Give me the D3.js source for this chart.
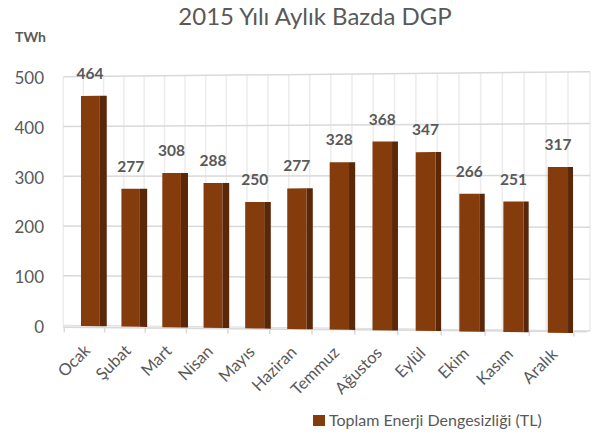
<!DOCTYPE html>
<html>
<head>
<meta charset="utf-8">
<script src="https://cdn.jsdelivr.net/npm/d3@7"></script>
<style>
  html, body { margin: 0; padding: 0; background: #fff; }
  svg { display: block; font-family: Lato, "Open Sans", sans-serif; }
</style>
</head>
<body>
<svg id="chart" width="596" height="438"></svg>
<script>
// ---- data ----
const months = ["Ocak","Şubat","Mart","Nisan","Mayıs","Haziran","Temmuz","Ağustos","Eylül","Ekim","Kasım","Aralık"];
const values = [464,277,308,288,250,277,328,368,347,266,251,317];
const yTicks = [0,100,200,300,400,500];
const titleText = "2015 Yılı Aylık Bazda DGP";
const unitText = "TWh";
const legendText = "Toplam Enerji Dengesizliği (TL)";

// ---- styles ----
const textColor = "#595959";
const barFront = "#843C0C";
const barSide = "#5A2808";
const gridColor = "#d9d9d9";
const vGridColor = "#ececec";

const svg = d3.select("#chart");

// ---- scales ----
const xBand = d3.scaleBand().domain(months).range([0, 12]);
const yFrac = d3.scaleLinear().domain([0, 500]).range([0, 1]);

// perspective warp of the category axis (front plane)
const warpX = s => 64.3 + 40.1 * s + 0.1975 * s * s;
// front plane vertical mapping
const baseF = x => 326 + (x - 81) * 7 / 492;
const h500F = x => 248 + (x - 90) * 0.02885;
const yF = (x, v) => baseF(x) - yFrac(v) * h500F(x);
// back wall mapping
const wallL = 63.3, wallR = 590;
const baseB = x => 325.5 + (x - wallL) * 5.5 / (wallR - wallL);
const topB = x => 76.7 - (x - wallL) * 5 / (wallR - wallL);
const yB = (x, v) => baseB(x) + (topB(x) - baseB(x)) * yFrac(v);
const wallX = j => wallL + 20.05 * j + 0.04075 * j * j;

// ---- back wall vertical gridlines ----
const g = svg.append("g");
g.selectAll("line.vg").data(d3.range(0, 26)).join("line")
  .attr("x1", j => wallX(j)).attr("x2", j => wallX(j))
  .attr("y1", j => yB(wallX(j), 500)).attr("y2", j => yB(wallX(j), 0))
  .attr("stroke", vGridColor).attr("stroke-width", 1.5);

// ---- horizontal gridlines ----
g.selectAll("line.hg").data(yTicks).join("line")
  .attr("x1", wallL).attr("x2", wallR)
  .attr("y1", v => yB(wallL, v)).attr("y2", v => yB(wallR, v))
  .attr("stroke", gridColor).attr("stroke-width", 1.5);

// ---- floor ----
const floorFrontL = [63, 327.3], floorFrontR = [587, 331.7];
g.append("polygon")
  .attr("points", [[wallL, yB(wallL, 0)], [wallR, yB(wallR, 0)], floorFrontR, floorFrontL].map(p => p.join(",")).join(" "))
  .attr("fill", "#f2f2f2");
g.append("line")
  .attr("x1", floorFrontL[0]).attr("y1", floorFrontL[1])
  .attr("x2", floorFrontR[0]).attr("y2", floorFrontR[1])
  .attr("stroke", gridColor).attr("stroke-width", 1.5);
const floorY = x => floorFrontL[1] + (x - floorFrontL[0]) * (floorFrontR[1] - floorFrontL[1]) / (floorFrontR[0] - floorFrontL[0]);
g.selectAll("line.tick").data(d3.range(0, 13)).join("line")
  .attr("x1", i => warpX(i)).attr("x2", i => warpX(i))
  .attr("y1", i => floorY(warpX(i))).attr("y2", i => floorY(warpX(i)) + 5)
  .attr("stroke", gridColor).attr("stroke-width", 1.5);

// ---- bars ----
const bars = months.map((m, i) => {
  const bw = xBand.bandwidth();
  const s0 = xBand(m) + 0.415 * bw;
  const s1 = xBand(m) + 0.868 * bw;
  const xl = warpX(s0), xr = warpX(s1);
  const sw = 7.5 - (xr - 99) * 2.5 / 470;
  return { m, v: values[i], xl, xr, xs: xr + sw };
});
const pts = arr => arr.map(p => p.join(",")).join(" ");
const bg = svg.append("g");
bg.selectAll("polygon.side").data(bars).join("polygon")
  .attr("points", d => pts([[d.xr, yF(d.xr, 0)], [d.xr, yF(d.xr, d.v)], [d.xs, yF(d.xs, d.v)], [d.xs, yF(d.xs, 0)]]))
  .attr("fill", barSide);
bg.selectAll("polygon.front").data(bars).join("polygon")
  .attr("points", d => pts([[d.xl, yF(d.xl, 0)], [d.xl, yF(d.xl, d.v)], [d.xr, yF(d.xr, d.v)], [d.xr, yF(d.xr, 0)]]))
  .attr("fill", barFront);

// value labels
bg.selectAll("text.val").data(bars).join("text")
  .attr("x", d => (d.xl + d.xr) / 2)
  .attr("y", d => yF((d.xl + d.xr) / 2, d.v) - 17)
  .attr("text-anchor", "middle")
  .attr("font-size", 15.5).attr("font-weight", "bold")
  .attr("fill", textColor)
  .text(d => d.v);

// ---- y-axis labels ----
svg.append("g").selectAll("text").data(yTicks).join("text")
  .attr("x", 44).attr("y", v => yB(wallL, v) + 1.5)
  .attr("dy", "0.35em")
  .attr("text-anchor", "end")
  .attr("font-size", 17).attr("fill", textColor)
  .text(v => v);

// ---- category labels ----
svg.append("g").selectAll("text").data(months).join("text")
  .attr("transform", (m, i) => {
    const cx = warpX(xBand(m) + xBand.bandwidth() / 2);
    const x = cx + 7;
    const y = floorY(cx) + 24;
    return `translate(${x},${y}) rotate(-45)`;
  })
  .attr("text-anchor", "end")
  .attr("font-size", 16.5).attr("fill", textColor)
  .text(m => m);

// ---- title, unit ----
svg.append("text").attr("x", 315).attr("y", 25).attr("text-anchor", "middle")
  .attr("font-size", 24).attr("fill", textColor).text(titleText);
svg.append("text").attr("x", 15).attr("y", 41.7)
  .attr("font-size", 14).attr("font-weight", "bold").attr("fill", textColor).text(unitText);

// ---- legend ----
svg.append("rect").attr("x", 313).attr("y", 415).attr("width", 12).attr("height", 11).attr("fill", barFront);
svg.append("text").attr("x", 329).attr("y", 425.7)
  .attr("font-size", 16).attr("fill", textColor).text(legendText);
</script>
</body>
</html>
